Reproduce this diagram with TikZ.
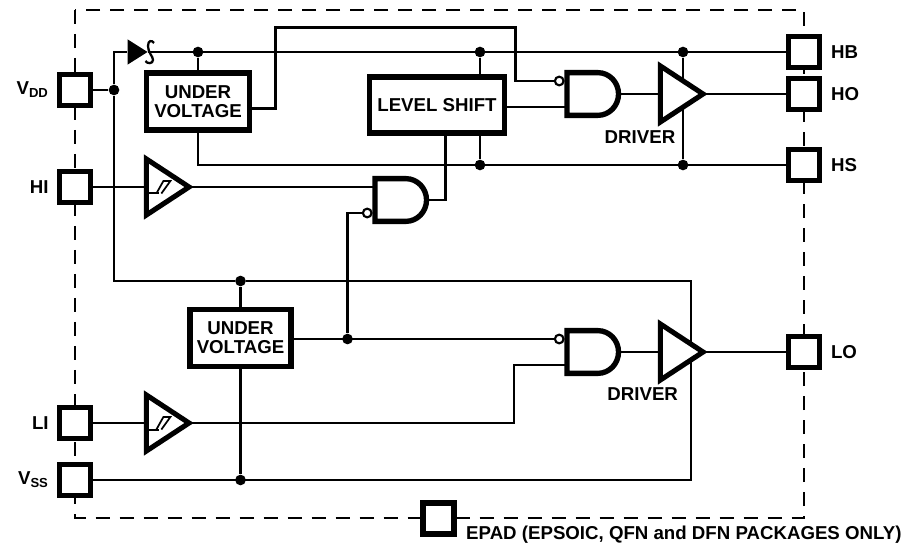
\documentclass[tikz,border=0pt]{standalone}
\usepackage{fontspec}
\setmainfont{Liberation Sans}
\usepackage{tikz}
\usetikzlibrary{positioning,calc,shapes.geometric,shapes.gates.logic.US}

\tikzset{
	pad/.style={draw=black,fill=white,line width=4.2pt,minimum size=23pt,inner sep=0pt},
	wire/.style={line width=2.1pt},
	joint/.style={circle,fill=black,minimum size=8pt,inner sep=0pt},
	block/.style={draw=black,fill=white,line width=4.2pt,inner sep=0pt,align=center,font=\bfseries\fontsize{14}{14.5}\selectfont},
	pinlabel/.style={inner sep=0pt,font=\bfseries\fontsize{14}{14.5}\selectfont},
	andgate/.style={and gate US,draw=black,fill=white,line width=4pt,logic gate inputs=nn,logic gate input sep=6pt,inner sep=0pt,transform shape,xscale=0.86,yscale=0.89},
	bubble/.style={circle,draw=black,fill=white,line width=1.6pt,minimum size=6.5pt,inner sep=0pt},
	amp/.style={isosceles triangle,isosceles triangle apex angle=64,isosceles triangle stretches,draw=black,fill=white,line width=3.8pt,minimum width=42pt,minimum height=32pt,inner sep=0pt,outer sep=0pt},
}

\begin{document}
\begin{tikzpicture}[x=0.75pt,y=-0.75pt]
	\useasboundingbox (0,0) rectangle (909,548);
	
	\draw[line width=1.5pt,dash pattern=on 10.5pt off 7.5pt] (75,10) rectangle (804,517.5);
	
	\node[pad] (vdd) at (75,90) {};
	\node[pad] (hi) at (75,187) {};
	\node[pad] (li) at (75,423) {};
	\node[pad] (vss) at (75,480) {};
	\node[pad] (epad) at (438.5,518.5) {};
	\node[pad] (hb) at (804,52) {};
	\node[pad] (ho) at (804,94) {};
	\node[pad] (hs) at (804,165) {};
	\node[pad] (lo) at (804,352) {};
	
	\node[pinlabel,left=6pt of vdd] (vddl) {V\textsubscript{DD}};
	\node[pinlabel,left=6pt of hi] (hil) {HI};
	\node[pinlabel,left=6pt of li] (lil) {LI};
	\node[pinlabel,left=6pt of vss] (vssl) {V\textsubscript{SS}};
	\node[pinlabel,right=6.5pt of hb] (hbl) {HB};
	\node[pinlabel,right=6.5pt of ho] (hol) {HO};
	\node[pinlabel,right=6.5pt of hs] (hsl) {HS};
	\node[pinlabel,right=6.5pt of lo] (lol) {LO};
	\node[pinlabel,right=7pt of epad,yshift=-12.4pt] (epadl) {EPAD (EPSOIC, QFN and DFN PACKAGES ONLY)};
	
	\node[joint] (vddj) at (114,90) {};
	\node[joint] (uvj) at (198,52) {};
	\node[joint] (lsj) at (480,52) {};
	\node[joint] (drvj) at (683,52) {};
	\node[joint] (lsg) at (480,165) {};
	\node[joint] (drg) at (683,165) {};
	\node[joint] (urail) at (240.5,281) {};
	\node[joint] (ugnd) at (240.5,480) {};
	\node[joint] (enj) at (347.5,339) {};
	
	\coordinate (uvup1) at (275.7,27.5);
	\coordinate (uvup2) at (515.7,27.5);
	\coordinate (liup) at (514,423);
	\coordinate (railr) at (691,281);
	\coordinate (railb) at (691,480);
	
	\node[isosceles triangle,isosceles triangle apex angle=64,isosceles triangle stretches,fill=black,minimum width=19pt,minimum height=15pt,inner sep=0pt] (dio) at (134.5,52) {};
	
	% high side
	\draw[wire] (vdd.east)--(vddj);
	\draw[wire] (urail)-|(vddj)|-(dio.lower side);
	\draw[wire] (dio.apex)--(hb.west);
	\draw[wire] (drvj)--(drg);
	\draw[wire] (urail)--(railr)--(railb)--(vss.east);
	
	\node[block,minimum width=77pt,minimum height=43pt] (uv1) at (198,101.5) {UNDER\\VOLTAGE};
	\node[block,minimum width=101pt,minimum height=42pt] (ls) at (437,104.8) {LEVEL SHIFT};
	\node[block,minimum width=76pt,minimum height=42.5pt] (uv2) at (240.5,338) {UNDER\\VOLTAGE};
	
	\node[andgate] (and1) at (591,94) {};
	\node[andgate] (and2) at (399,200) {};
	\node[andgate] (and3) at (591,352) {};
	
	\node[bubble,anchor=east] (bub1) at ([yshift=9.75pt]and1.west) {};
	\node[bubble,anchor=east] (bub2) at ([yshift=-9.75pt]and2.west) {};
	\node[bubble,anchor=east] (bub3) at ([yshift=9.75pt]and3.west) {};
	
	\node[amp] (buf1) at (161.5,187) {};
	\node[amp] (buf2) at (161.5,423) {};
	\node[amp] (drv1) at (675.5,94) {};
	\node[amp] (drv2) at (675.5,352) {};
	
	\node[pinlabel] (drv1l) at (640,137) {DRIVER};
	\node[pinlabel] (drv2l) at (642.7,394) {DRIVER};
	
	\draw[wire] (uvj)--(uv1.north);
	\draw[wire] (lsj)--(lsj|-ls.north);
	\draw[wire] (lsj|-ls.south)--(lsg);
	\draw[wire] (uv1.south)|-(hs.west);
	\draw[wire] ([yshift=-5pt]uv1.east)-|(uvup1)--(uvup2)|-(bub1.west);
	\draw[wire] ([yshift=-9.75pt]and1.west)--([yshift=-9.75pt]and1.west-|ls.east);
	\draw[wire] (and1.output)--(drv1.lower side);
	\draw[wire] (drv1.apex)--(ho.west);
	
	\draw[wire] (hi.east)--(buf1.lower side);
	\draw[wire] (buf1.apex)--([yshift=9.75pt]and2.west);
	\draw[wire] (and2.output)-|([xshift=6.5pt]ls.south);
	\draw[wire] (enj)|-(bub2.west);
	
	% low side
	\draw[wire] (urail)--(uv2.north);
	\draw[wire] (uv2.south)--(ugnd);
	\draw[wire] (uv2.east|-enj)--(bub3.west);
	\draw[wire] (li.east)--(buf2.lower side);
	\draw[wire] (buf2.apex)--(liup)|-([yshift=-9.75pt]and3.west);
	\draw[wire] (and3.output)--(drv2.lower side);
	\draw[wire] (drv2.apex)--(lo.west);
	
	\foreach \b in {buf1,buf2}{
		\draw[line width=1.5pt,shift={(\b.lower side)}] (0,6.5)--(13,6.5);
		\draw[line width=1.3pt,shift={(\b.lower side)}] (10,6.5)--(17,-6)--(24,-6)--(15,6.5);
		}
	
	\draw[line width=1.7pt] (154,43) .. controls (152,40) and (148,40) .. (148,46) .. controls (148,53) and (153,56) .. (153,60) .. controls (153,64) and (147,64) .. (145.5,61);
\end{tikzpicture}
\end{document}
